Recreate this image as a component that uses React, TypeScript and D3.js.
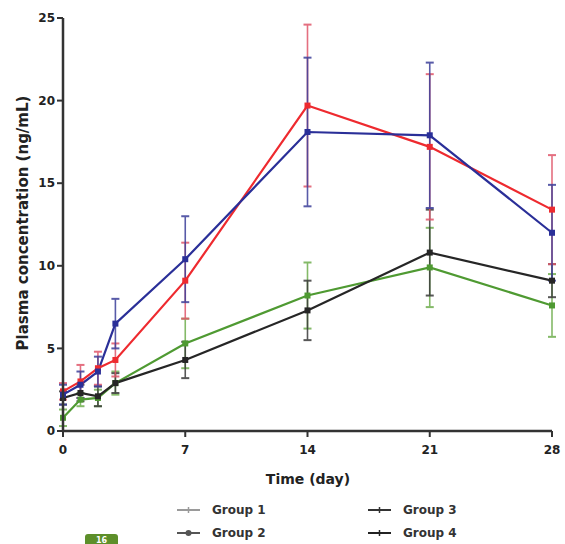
import React from "react";
import * as d3 from "d3";

const days = [0, 1, 2, 3, 7, 14, 21, 28];
const redMean = [2.4, 3.0, 3.8, 4.3, 9.1, 19.7, 17.2, 13.4];
const redErr = [0.5, 1.0, 1.0, 1.0, 2.3, 4.9, 4.4, 3.3];
const blueMean = [2.2, 2.8, 3.6, 6.5, 10.4, 18.1, 17.9, 12.0];
const blueErr = [0.6, 0.8, 0.9, 1.5, 2.6, 4.5, 4.4, 2.9];
const greenMean = [0.8, 1.9, 2.0, 2.9, 5.3, 8.2, 9.9, 7.6];
const greenErr = [0.5, 0.4, 0.5, 0.7, 1.5, 2.0, 2.4, 1.9];
const blackMean = [2.0, 2.3, 2.1, 2.9, 4.3, 7.3, 10.8, 9.1];
const blackErr = [0.4, 0.5, 0.6, 0.6, 1.1, 1.8, 2.6, 1.0];

const xTicks = [0, 7, 14, 21, 28];
const yTicks = [0, 5, 10, 15, 20, 25];
const legendLabels = ["Group 1", "Group 2", "Group 3", "Group 4"];

const series = [
  { mean: greenMean, err: greenErr, color: "#4f9a32", errColor: "#6fae4e" },
  { mean: blackMean, err: blackErr, color: "#262626", errColor: "#3a3a3a" },
  { mean: redMean, err: redErr, color: "#ee2a2f", errColor: "#e0566a" },
  { mean: blueMean, err: blueErr, color: "#2a2f98", errColor: "#3c3f9a" },
];

export default function App() {
  const x = d3.scaleLinear().domain([0, 28]).range([63, 552]);
  const y = d3.scaleLinear().domain([0, 25]).range([431, 18]);
  const line = d3
    .line<number>()
    .x((_, i) => x(days[i]))
    .y((v) => y(v));
  const font = "'DejaVu Sans', Verdana, sans-serif";
  const axisColor = "#333";

  return (
    <svg
      width={565}
      height={544}
      style={{ position: "absolute", left: 0, top: 0, background: "#fff" }}
      fontFamily={font}
    >
      {/* error bars */}
      {series.map((s, si) => (
        <g key={"e" + si} stroke={s.errColor} strokeWidth={1.6} opacity={0.85}>
          {s.mean.map((m, i) => {
            const cx = x(days[i]);
            const t = y(m + s.err[i]);
            const b = y(Math.max(0, m - s.err[i]));
            return (
              <g key={i}>
                <line x1={cx} x2={cx} y1={t} y2={b} />
                <line x1={cx - 4} x2={cx + 4} y1={t} y2={t} strokeWidth={2} />
                <line x1={cx - 4} x2={cx + 4} y1={b} y2={b} strokeWidth={2} />
              </g>
            );
          })}
        </g>
      ))}
      {/* lines */}
      {series.map((s, si) => (
        <path
          key={"l" + si}
          d={line(s.mean) || ""}
          fill="none"
          stroke={s.color}
          strokeWidth={2.2}
        />
      ))}
      {/* markers */}
      {series.map((s, si) => (
        <g key={"m" + si} fill={s.color}>
          {s.mean.map((m, i) => (
            <rect
              key={i}
              x={x(days[i]) - 3}
              y={y(m) - 3}
              width={6}
              height={6}
            />
          ))}
        </g>
      ))}
      {/* axes */}
      <line x1={63} x2={63} y1={y(25)} y2={y(0)} stroke={axisColor} strokeWidth={2.5} />
      <line x1={63} x2={x(28)} y1={y(0)} y2={y(0)} stroke={axisColor} strokeWidth={2.5} />
      {yTicks.map((t) => (
        <g key={"yt" + t}>
          <line x1={57} x2={63} y1={y(t)} y2={y(t)} stroke={axisColor} strokeWidth={2} />
          <text
            x={55}
            y={y(t)}
            dy="0.35em"
            textAnchor="end"
            fontSize={12}
            fontWeight="bold"
            fill="#222"
          >
            {t}
          </text>
        </g>
      ))}
      {xTicks.map((t) => (
        <g key={"xt" + t}>
          <line x1={x(t)} x2={x(t)} y1={y(0)} y2={y(0) + 6} stroke={axisColor} strokeWidth={2} />
          <text
            x={x(t)}
            y={454}
            textAnchor="middle"
            fontSize={12}
            fontWeight="bold"
            fill="#222"
          >
            {t}
          </text>
        </g>
      ))}
      <text
        x={308}
        y={484}
        textAnchor="middle"
        fontSize={14}
        fontWeight="bold"
        fill="#222"
      >
        Time (day)
      </text>
      <text
        transform={`translate(28, 223) rotate(-90)`}
        textAnchor="middle"
        fontSize={15}
        fontWeight="bold"
        fill="#222"
      >
        Plasma concentration (ng/mL)
      </text>
      {/* legend */}
      {legendLabels.map((lab, i) => {
        const col = i < 2 ? 0 : 1;
        const row = i % 2;
        const lx = col === 0 ? 177 : 368;
        const ly = row === 0 ? 510 : 533;
        const colors = ["#9a9a9a", "#555", "#333", "#222"];
        return (
          <g key={lab}>
            <line x1={lx} x2={lx + 23} y1={ly} y2={ly} stroke={colors[i]} strokeWidth={2} />
            {i === 1 ? (
              <circle cx={lx + 11.5} cy={ly} r={3} fill={colors[i]} />
            ) : (
              <line
                x1={lx + 11.5}
                x2={lx + 11.5}
                y1={ly - 3}
                y2={ly + 3}
                stroke={colors[i]}
                strokeWidth={1.5}
              />
            )}
            <text
              x={lx + 35}
              y={ly}
              dy="0.35em"
              fontSize={12}
              fontWeight="bold"
              fill="#333"
            >
              {lab}
            </text>
          </g>
        );
      })}
      {/* badge */}
      <rect x={85} y={534} width={33} height={14} rx={3} fill="#5d8f2a" />
      <text x={101.5} y={543} textAnchor="middle" fontSize={8} fontWeight="bold" fill="#fff">
        16
      </text>
    </svg>
  );
}
